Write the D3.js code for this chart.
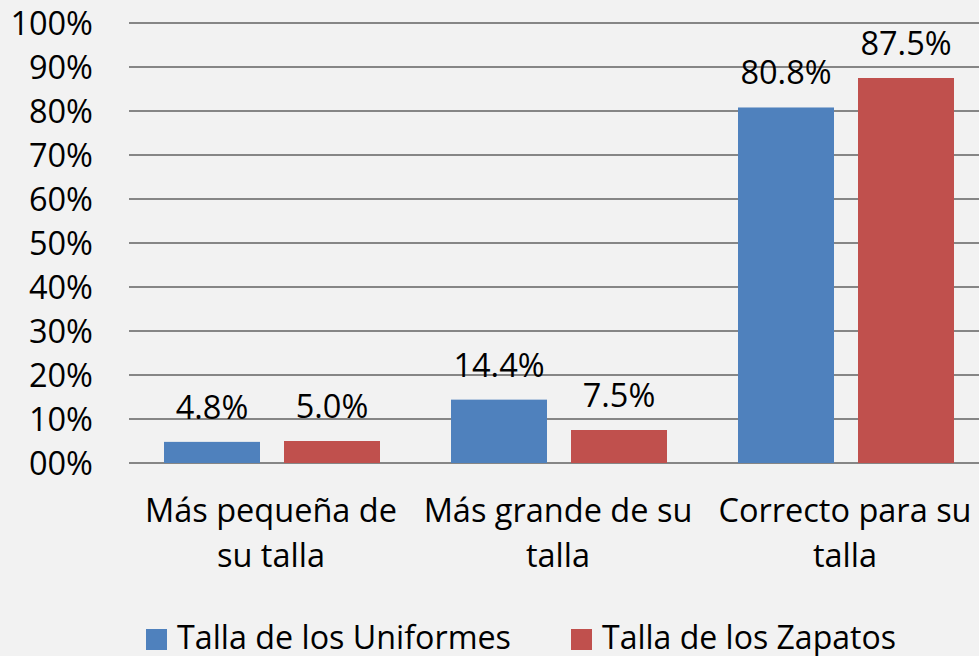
<!DOCTYPE html>
<html><head><meta charset="utf-8">
<script src="https://cdn.jsdelivr.net/npm/d3@7"></script>
<style>html,body{margin:0;padding:0;background:#f2f2f2;overflow:hidden}</style>
</head><body>
<svg id="c" width="979" height="656"></svg>
<script>
const categories = ["Más pequeña de su talla", "Más grande de su talla", "Correcto para su talla"];
const categoryLines = [["Más pequeña de", "su talla"], ["Más grande de su", "talla"], ["Correcto para su", "talla"]];
const seriesNames = ["Talla de los Uniformes", "Talla de los Zapatos"];
const uniformes = [0.048, 0.144, 0.808];
const zapatos = [0.050, 0.075, 0.875];
const yTicks = [0, 0.1, 0.2, 0.3, 0.4, 0.5, 0.6, 0.7, 0.8, 0.9, 1.0];
const yTickLabels = ["00%", "10%", "20%", "30%", "40%", "50%", "60%", "70%", "80%", "90%", "100%"];
const colors = ["#4f81bd", "#c0504d"];

const seriesValues = [uniformes, zapatos];
const FONT = "'Open Sans', 'Noto Sans', sans-serif";
const FS = 32.5;
const svg = d3.select("#c");
svg.append("rect").attr("width", 979).attr("height", 656).attr("fill", "#f2f2f2");

const y = d3.scaleLinear().domain([0, 1]).range([463, 23]);
const x0 = d3.scaleBand().domain(categories).range([128.5, 989.5]).paddingInner(0).paddingOuter(0);
const x1 = d3.scaleBand().domain(seriesNames).range([35.5, 251.5]).paddingInner(0.2);

// gridlines
svg.append("g").selectAll("line").data(yTicks).join("line")
  .attr("x1", 129).attr("x2", 979)
  .attr("y1", d => y(d)).attr("y2", d => y(d))
  .attr("stroke", "#868686").attr("stroke-width", 2);

// y labels
svg.append("g").selectAll("text").data(yTicks).join("text")
  .attr("x", 93).attr("y", d => y(d)).attr("dy", "0.36em")
  .attr("text-anchor", "end").attr("font-family", FONT).attr("font-size", FS).attr("fill", "#000")
  .text((d, i) => yTickLabels[i]);

// bars
const groups = svg.append("g").selectAll("g").data(categories).join("g")
  .attr("transform", d => `translate(${x0(d)},0)`);
groups.each(function(cat, ci) {
  const g = d3.select(this);
  seriesNames.forEach((s, si) => {
    const v = seriesValues[si][ci];
    g.append("rect").attr("x", x1(s)).attr("width", x1.bandwidth())
      .attr("y", y(v)).attr("height", y(0) - y(v)).attr("fill", colors[si]);
    g.append("text").attr("x", x1(s) + x1.bandwidth() / 2).attr("y", y(v) - 23)
      .attr("text-anchor", "middle").attr("font-family", FONT).attr("font-size", FS).attr("fill", "#000")
      .text(d3.format(".1%")(v));
  });
  categoryLines[ci].forEach((line, li) => {
    g.append("text").attr("x", x0.bandwidth() / 2 - 1).attr("y", 522 + li * 45)
      .attr("text-anchor", "middle").attr("font-family", FONT).attr("font-size", FS).attr("fill", "#000")
      .text(line);
  });
});

// legend
const legendX = [146, 571];
const legendW = [334, 294];
seriesNames.forEach((s, i) => {
  svg.append("rect").attr("x", legendX[i]).attr("y", 629).attr("width", 21).attr("height", 21).attr("fill", colors[i]);
  svg.append("text").attr("x", legendX[i] + 31).attr("y", 649)
    .attr("font-family", FONT).attr("font-size", FS).attr("fill", "#000")
    .attr("textLength", legendW[i]).attr("lengthAdjust", "spacingAndGlyphs")
    .text(s);
});
</script>
</body></html>
